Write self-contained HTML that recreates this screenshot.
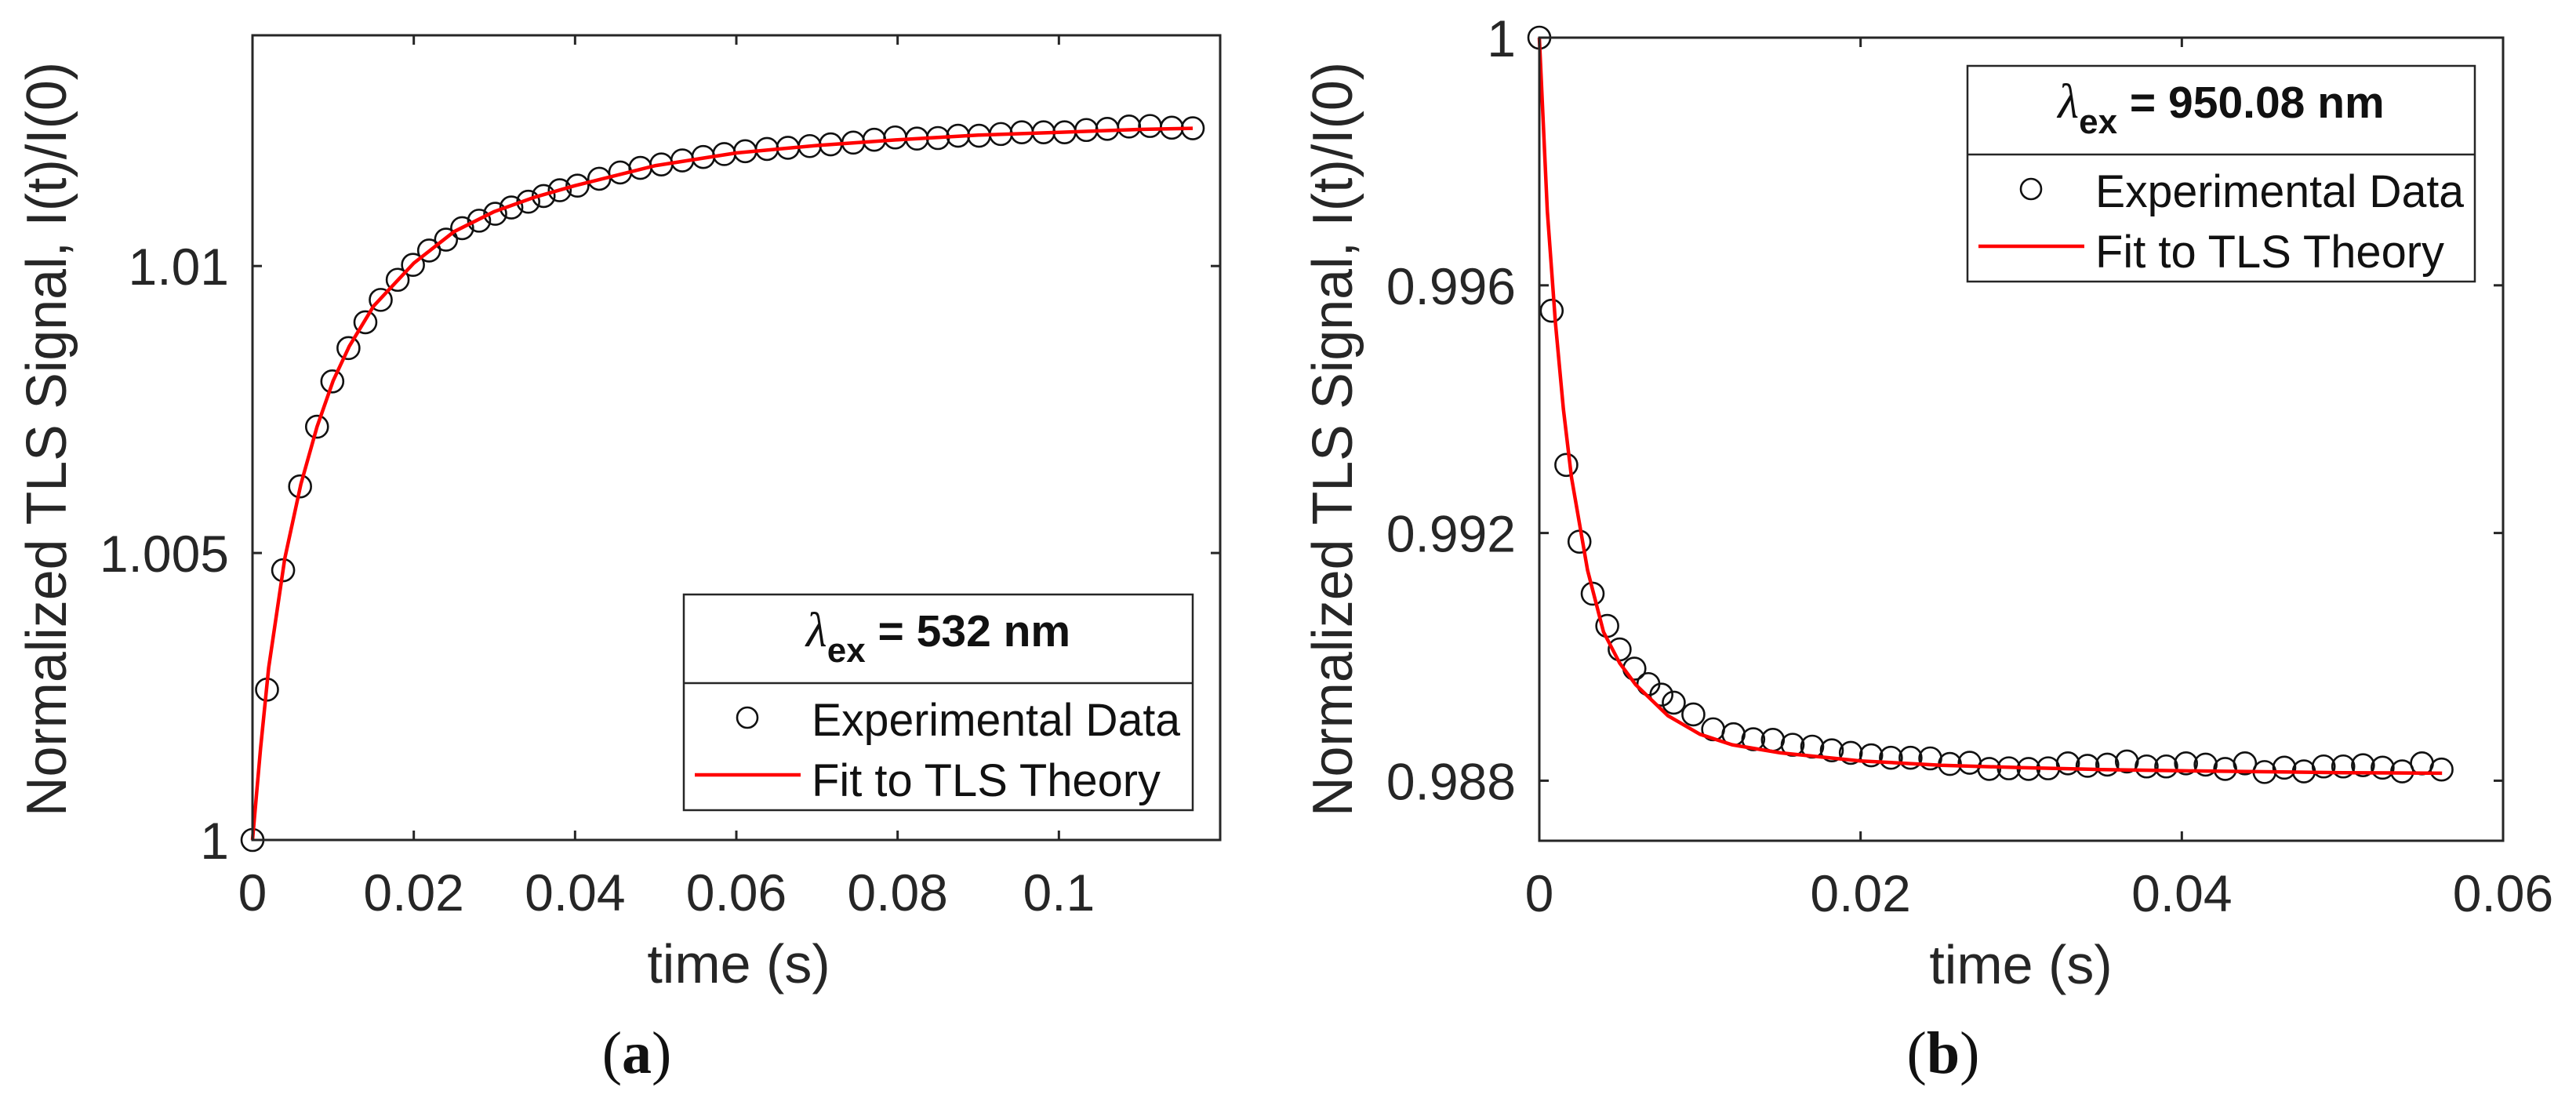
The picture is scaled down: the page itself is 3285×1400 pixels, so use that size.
<!DOCTYPE html>
<html><head><meta charset="utf-8"><style>
html,body{margin:0;padding:0;background:#fff;}
svg{display:block;font-family:"Liberation Sans",sans-serif;}
</style></head><body>
<svg id="fig" width="3285" height="1400" viewBox="0 0 3285 1400" xmlns="http://www.w3.org/2000/svg"></svg>
<script>
// ---- Panel (a) data ----
const aTime = [0,0.0018,0.0038,0.0059,0.008,0.0099,0.0119,0.014,0.0159,0.018,0.0199,0.0219,0.024,0.026,0.0281,0.0301,0.0321,0.0342,0.0361,0.0381,0.0403,0.043,0.0456,0.0481,0.0507,0.0533,0.0559,0.0585,0.0611,0.0638,0.0664,0.0691,0.0717,0.0745,0.0771,0.0797,0.0824,0.085,0.0875,0.0901,0.0928,0.0954,0.0981,0.1007,0.1034,0.106,0.1087,0.1113,0.114,0.1166];
const aSignal = [1,1.00262,1.0047,1.00616,1.0072,1.00799,1.00857,1.00902,1.00941,1.00976,1.01002,1.01027,1.01046,1.01066,1.01079,1.01091,1.01102,1.01112,1.01122,1.01132,1.0114,1.01152,1.01163,1.01171,1.01177,1.01184,1.0119,1.01195,1.012,1.01204,1.01206,1.01209,1.01212,1.01215,1.0122,1.01224,1.01222,1.01223,1.01227,1.01227,1.0123,1.01233,1.01233,1.01233,1.01237,1.01239,1.01243,1.01244,1.01241,1.0124];
const aFitTime = [0,0.001,0.002,0.004,0.006,0.008,0.01,0.012,0.015,0.02,0.025,0.03,0.035,0.04,0.05,0.06,0.07,0.08,0.09,0.1,0.11,0.1166];
const aFitSignal = [1,1.0016,1.003,1.0049,1.0062,1.0072,1.008,1.0086,1.0093,1.01005,1.0106,1.01095,1.0112,1.0114,1.01175,1.01197,1.0121,1.0122,1.01228,1.01233,1.01238,1.0124];
const aXTicks = [0,0.02,0.04,0.06,0.08,0.1];
const aXTickLabels = ["0","0.02","0.04","0.06","0.08","0.1"];
const aYTicks = [1,1.005,1.01];
const aYTickLabels = ["1","1.005","1.01"];
// ---- Panel (b) data ----
const bTime = [0,0.00077,0.00168,0.0025,0.00332,0.00423,0.005,0.00592,0.00679,0.0076,0.00837,0.00959,0.01082,0.01209,0.01332,0.01454,0.01577,0.01699,0.01821,0.01939,0.02066,0.02189,0.02311,0.02434,0.02556,0.02679,0.02801,0.02923,0.03046,0.03168,0.03291,0.03413,0.03536,0.03658,0.03781,0.03903,0.04026,0.04148,0.0427,0.04393,0.04515,0.04638,0.0476,0.04883,0.05005,0.05128,0.0525,0.05372,0.05495,0.05617];
const bSignal = [1,0.99559,0.9931,0.99186,0.99102,0.9905,0.99012,0.98981,0.98956,0.98939,0.98926,0.98907,0.98883,0.98875,0.98867,0.98866,0.98858,0.98855,0.98849,0.98845,0.98841,0.98837,0.98837,0.98836,0.98827,0.98829,0.98819,0.9882,0.98819,0.9882,0.98828,0.98824,0.98826,0.98831,0.98823,0.98823,0.98828,0.98826,0.98819,0.98828,0.98814,0.98821,0.98815,0.98823,0.98823,0.98825,0.98821,0.98815,0.98828,0.98818];
const bFitTime = [0,0.0005,0.001,0.0015,0.002,0.003,0.004,0.005,0.006,0.008,0.01,0.012,0.015,0.02,0.025,0.03,0.035,0.04,0.05,0.0562];
const bFitSignal = [1,0.9972,0.9954,0.9940,0.9929,0.9914,0.9904,0.9899,0.98955,0.98905,0.98875,0.98858,0.98845,0.98832,0.98825,0.98821,0.98818,0.98816,0.98813,0.98812];
const bXTicks = [0,0.02,0.04,0.06];
const bXTickLabels = ["0","0.02","0.04","0.06"];
const bYTicks = [0.988,0.992,0.996,1];
const bYTickLabels = ["0.988","0.992","0.996","1"];

const NS = "http://www.w3.org/2000/svg";
const svg = document.getElementById('fig');
function mk(tag, attrs, parent){
  const e = document.createElementNS(NS, tag);
  for (const k in attrs) e.setAttribute(k, attrs[k]);
  (parent||svg).appendChild(e);
  return e;
}

function panel(o){
  const g = mk('g', {});
  
  
  const xs = t => o.x0 + (t - o.xmin) / (o.xmax - o.xmin) * (o.x1 - o.x0);
  const ys = v => o.y1 - (v - o.ymin) / (o.ymax - o.ymin) * (o.y1 - o.y0);
  let d = '';
  o.fitT.forEach((t,i) => { d += (i ? 'L' : 'M') + xs(t).toFixed(1) + ',' + ys(o.fitV[i]).toFixed(1); });
  o.t.forEach((t,i) => {
    const c = mk('circle', {cx: xs(t), cy: ys(o.v[i]), r: 14, fill: 'none', stroke: '#111', 'stroke-width': 2.6}, g);
    
    
  });
  const fl = mk('path', {d: d, fill: 'none', stroke: '#ff0000', 'stroke-width': 4.5, 'stroke-linejoin': 'round'}, g);
  
  
  const box = mk('rect', {x: o.x0, y: o.y0, width: o.x1 - o.x0, height: o.y1 - o.y0, fill: 'none', stroke: '#262626', 'stroke-width': 3}, g);
  
  
  o.xt.forEach((t,i) => {
    const x = xs(t);
    mk('line', {x1: x, y1: o.y1, x2: x, y2: o.y1 - 12, stroke: '#262626', 'stroke-width': 3}, g);
    mk('line', {x1: x, y1: o.y0, x2: x, y2: o.y0 + 12, stroke: '#262626', 'stroke-width': 3}, g);
    const tx = mk('text', {x: x, y: o.y1 + 90, 'text-anchor': 'middle', 'font-size': 66, fill: '#262626'}, g);
    tx.textContent = o.xl[i];
    
    
  });
  o.yt.forEach((v,i) => {
    const y = ys(v);
    mk('line', {x1: o.x0, y1: y, x2: o.x0 + 12, y2: y, stroke: '#262626', 'stroke-width': 3}, g);
    mk('line', {x1: o.x1, y1: y, x2: o.x1 - 12, y2: y, stroke: '#262626', 'stroke-width': 3}, g);
    const ty = mk('text', {x: o.x0 - 30, y: y + 24, 'text-anchor': 'end', 'font-size': 66, fill: '#262626'}, g);
    ty.textContent = o.yl[i];
    
    
  });
  const xl = mk('text', {x: o.xlx, y: o.y1 + 182, 'text-anchor': 'middle', 'font-size': 70, fill: '#262626'}, g);
  xl.textContent = 'time (s)';
  
  
  const yl = mk('text', {x: 0, y: 0, 'text-anchor': 'middle', 'font-size': 72, fill: '#262626', textLength: 962, lengthAdjust: 'spacingAndGlyphs', transform: 'translate(' + o.ylx + ',560) rotate(-90)'}, g);
  yl.textContent = 'Normalized TLS Signal, I(t)/I(0)';
  
  
  const W = o.lw;
  const L = mk('g', {transform: 'translate(' + o.lx + ',' + o.ly + ')'}, g);
  
  
  mk('rect', {x: 0, y: 0, width: W, height: 275, fill: '#fff', stroke: '#262626', 'stroke-width': 2.5}, L);
  mk('line', {x1: 0, y1: 113, x2: W, y2: 113, stroke: '#262626', 'stroke-width': 2.5}, L);
  const tt = mk('text', {x: W / 2, y: 66, 'text-anchor': 'middle', 'font-size': 57, 'font-weight': 'bold', fill: '#111'}, L);
  
  
  tt.innerHTML = '<tspan font-family="Liberation Serif" font-style="italic" font-weight="normal" font-size="62">λ</tspan><tspan dy="20" font-size="44">ex</tspan><tspan dy="-20"> = ' + o.title + '</tspan>';
  const c = mk('circle', {cx: 81, cy: 157, r: 13, fill: 'none', stroke: '#111', 'stroke-width': 2.6}, L);
  
  
  const t1 = mk('text', {x: 163, y: 180, 'font-size': 58, fill: '#111', textLength: 470, lengthAdjust: 'spacingAndGlyphs'}, L);
  t1.textContent = 'Experimental Data';
  
  
  const ln = mk('line', {x1: 14, y1: 230, x2: 149, y2: 230, stroke: '#ff0000', 'stroke-width': 4.5}, L);
  
  
  const t2 = mk('text', {x: 163, y: 257, 'font-size': 58, fill: '#111', textLength: 445, lengthAdjust: 'spacingAndGlyphs'}, L);
  t2.textContent = 'Fit to TLS Theory';
  
  
  const pl = mk('text', {x: o.plx, y: 1368, 'text-anchor': 'middle', 'font-size': 76, 'font-family': 'Liberation Serif, serif', fill: '#111'}, g);
  pl.innerHTML = '(<tspan font-weight="bold">' + o.letter + '</tspan>)';
  
  
}

panel({name:'panel-a', x0:322, x1:1556, y0:45, y1:1071, xmin:0, xmax:0.12, ymin:1, ymax:1.01402,
  t:aTime, v:aSignal, fitT:aFitTime, fitV:aFitSignal, xt:aXTicks, xl:aXTickLabels, yt:aYTicks, yl:aYTickLabels,
  lx:872, ly:758, lw:649, title:'532 nm', plx:812, letter:'a', xlx:942, ylx:84});
panel({name:'panel-b', x0:1963, x1:3192, y0:48, y1:1072, xmin:0, xmax:0.06, ymin:0.98703, ymax:1,
  t:bTime, v:bSignal, fitT:bFitTime, fitV:bFitSignal, xt:bXTicks, xl:bXTickLabels, yt:bYTicks, yl:bYTickLabels,
  lx:2509, ly:84, lw:647, title:'950.08 nm', plx:2478, letter:'b', xlx:2577, ylx:1724});
</script>
</body></html>
